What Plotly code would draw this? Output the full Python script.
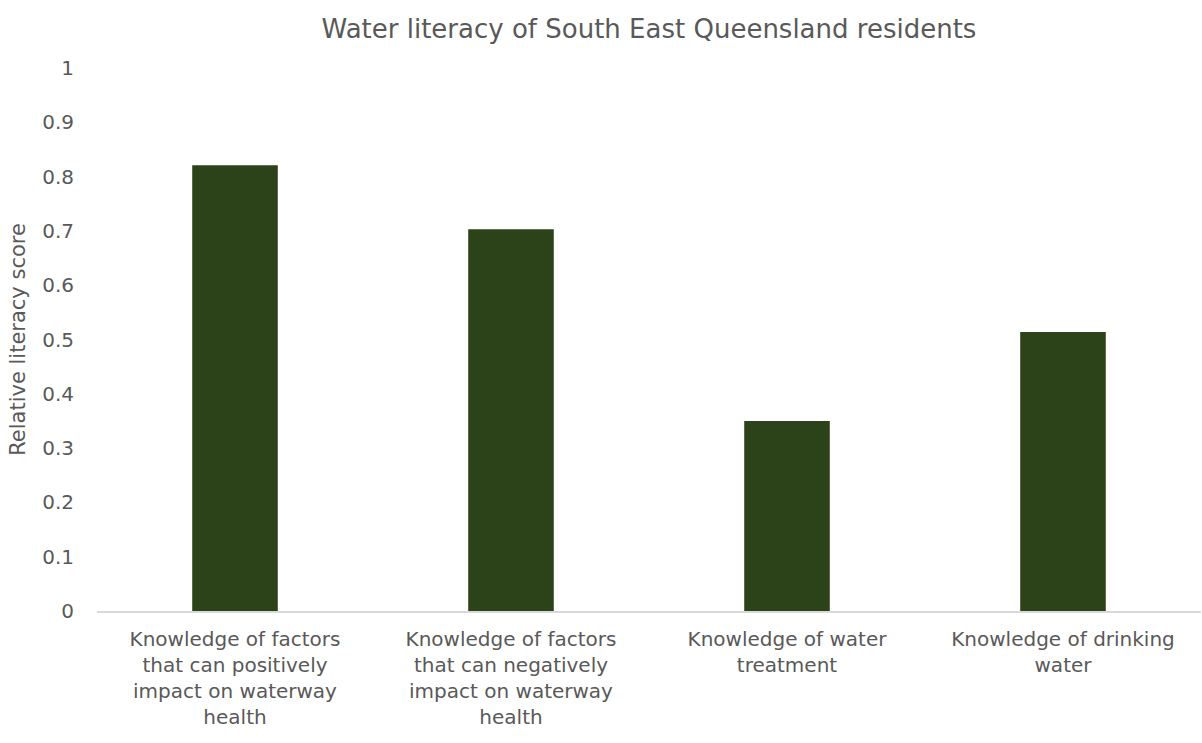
import plotly.graph_objects as go

# Water literacy scores by knowledge area
categories = [
    "Knowledge of factors<br>that can positively<br>impact on waterway<br>health",
    "Knowledge of factors<br>that can negatively<br>impact on waterway<br>health",
    "Knowledge of water<br>treatment",
    "Knowledge of drinking<br>water",
]
scores = [0.821, 0.703, 0.350, 0.514]
y_ticks = [0, 0.1, 0.2, 0.3, 0.4, 0.5, 0.6, 0.7, 0.8, 0.9, 1]
y_tick_labels = ["0", "0.1", "0.2", "0.3", "0.4", "0.5", "0.6", "0.7", "0.8", "0.9", "1"]

FONT = "DejaVu Sans"
TEXT = "#595959"

fig = go.Figure(
    go.Bar(
        x=categories,
        y=scores,
        marker=dict(color="#2c4219", line=dict(width=0)),
        width=0.31,
    )
)

fig.update_layout(
    width=1202,
    height=743,
    margin=dict(l=97, r=1, t=68, b=132),
    paper_bgcolor="white",
    plot_bgcolor="white",
    showlegend=False,
    font=dict(family=FONT, color=TEXT, size=19),
    title=dict(
        text="Water literacy of South East Queensland residents",
        x=0.5,
        xref="paper",
        xanchor="center",
        y=1 - 29 / 743,
        yref="container",
        yanchor="middle",
        font=dict(family=FONT, size=26, color=TEXT),
    ),
    xaxis=dict(
        showline=True,
        linecolor="#d9d9d9",
        linewidth=1.5,
        showgrid=False,
        ticks="",
        tickfont=dict(size=20, color=TEXT),
        ticklabelstandoff=9,
    ),
    yaxis=dict(
        range=[0, 1],
        tickvals=y_ticks,
        ticktext=y_tick_labels,
        showgrid=False,
        zeroline=False,
        showline=False,
        ticks="",
        tickfont=dict(size=20, color=TEXT),
        ticklabelstandoff=22,
        title=dict(text="Relative literacy score", font=dict(size=21, color=TEXT), standoff=10),
    ),
)

fig.write_html("out.html")
